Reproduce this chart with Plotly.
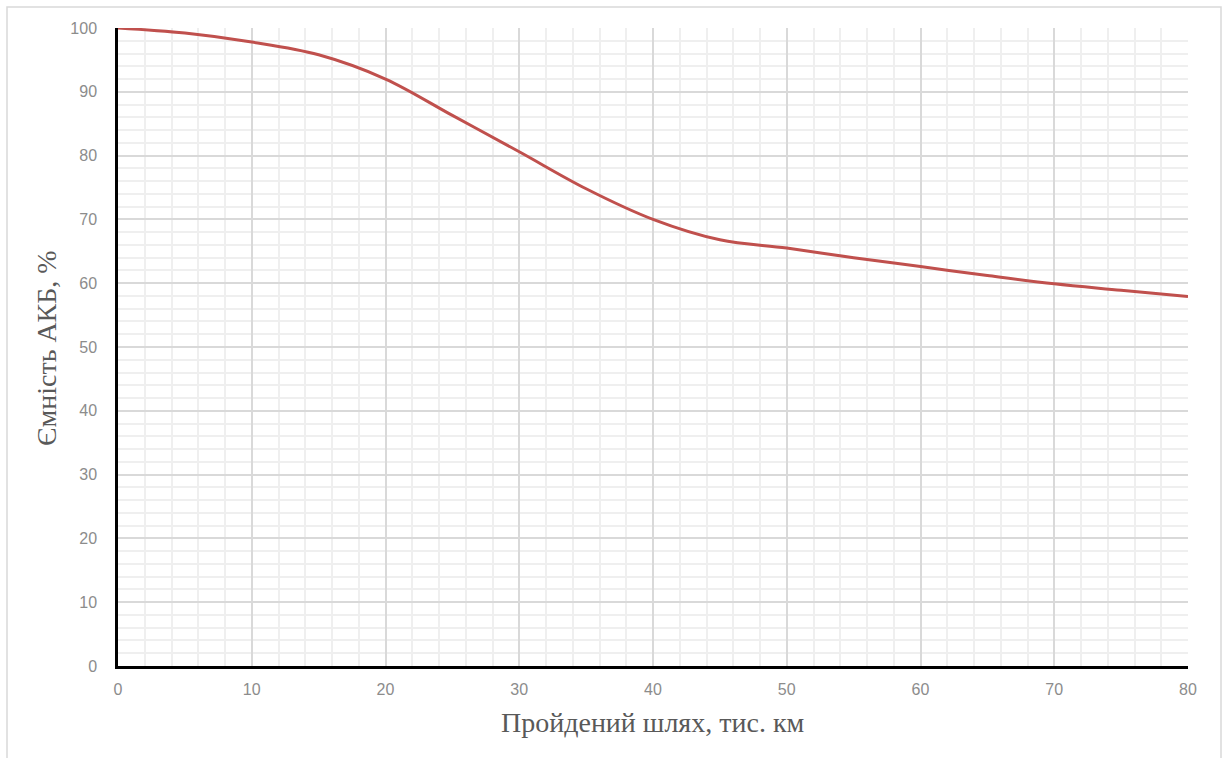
import plotly.graph_objects as go

# Data
distance_k_km = [0, 5, 10, 15, 20, 25, 30, 35, 40, 45, 50, 55, 60, 65, 70, 75, 80]
capacity_pct = [100, 99.2, 97.8, 95.8, 92, 86.3, 80.6, 74.8, 70, 66.8, 65.5, 64.0, 62.6, 61.2, 59.9, 58.9, 57.9]

x_title = "Пройдений шлях, тис. км"
y_title = "Ємність АКБ, %"

W, H = 1224, 758
L, R, T, B = 118, 36, 28, 92
pw, ph = W - L - R, H - T - B

def px_x(p):
    return (p - L) / pw

def px_y(p):
    return (H - B - p) / ph

fig = go.Figure()
fig.add_trace(go.Scatter(
    x=distance_k_km, y=capacity_pct, mode="lines",
    line=dict(color="#c0504d", width=3, shape="spline", smoothing=1.0),
    hoverinfo="x+y", showlegend=False,
))

tickfont = dict(family="Liberation Sans, Arial, sans-serif", size=16, color="#8c8c8c")

fig.update_xaxes(
    range=[0, 80], tick0=0, dtick=10, showgrid=True, gridcolor="#d9d9d9", gridwidth=1.5,
    minor=dict(dtick=2, showgrid=True, gridcolor="#efefef", gridwidth=1.5),
    showline=True, linecolor="#000000", linewidth=2.5, zeroline=False,
    ticks="", tickfont=tickfont, ticklabelstandoff=7,
)
fig.update_yaxes(
    range=[0, 100], tick0=0, dtick=10, showgrid=True, gridcolor="#d9d9d9", gridwidth=1.5,
    minor=dict(dtick=2, showgrid=True, gridcolor="#efefef", gridwidth=1.5),
    showline=True, linecolor="#000000", linewidth=2.5, zeroline=False,
    ticks="", tickfont=tickfont, ticklabelstandoff=15,
)

title_font = dict(family="Liberation Serif, Times New Roman, serif", size=28, color="#595959")
fig.add_annotation(text=x_title, xref="paper", yref="paper", x=px_x(652), y=px_y(722),
                   showarrow=False, font=title_font, xanchor="center", yanchor="middle")
fig.add_annotation(text=y_title, xref="paper", yref="paper", x=px_x(47), y=px_y(348),
                   showarrow=False, font=title_font, textangle=-90, xanchor="center", yanchor="middle")

# outer chart border
fig.add_shape(type="rect", xref="paper", yref="paper",
              x0=px_x(7), x1=px_x(1221), y0=px_y(775), y1=px_y(7),
              line=dict(color="#d9d9d9", width=1.5), fillcolor="rgba(0,0,0,0)", layer="below")

fig.update_layout(
    width=W, height=H, margin=dict(l=L, r=R, t=T, b=B),
    paper_bgcolor="white", plot_bgcolor="white",
)

fig.write_html("out.html")
